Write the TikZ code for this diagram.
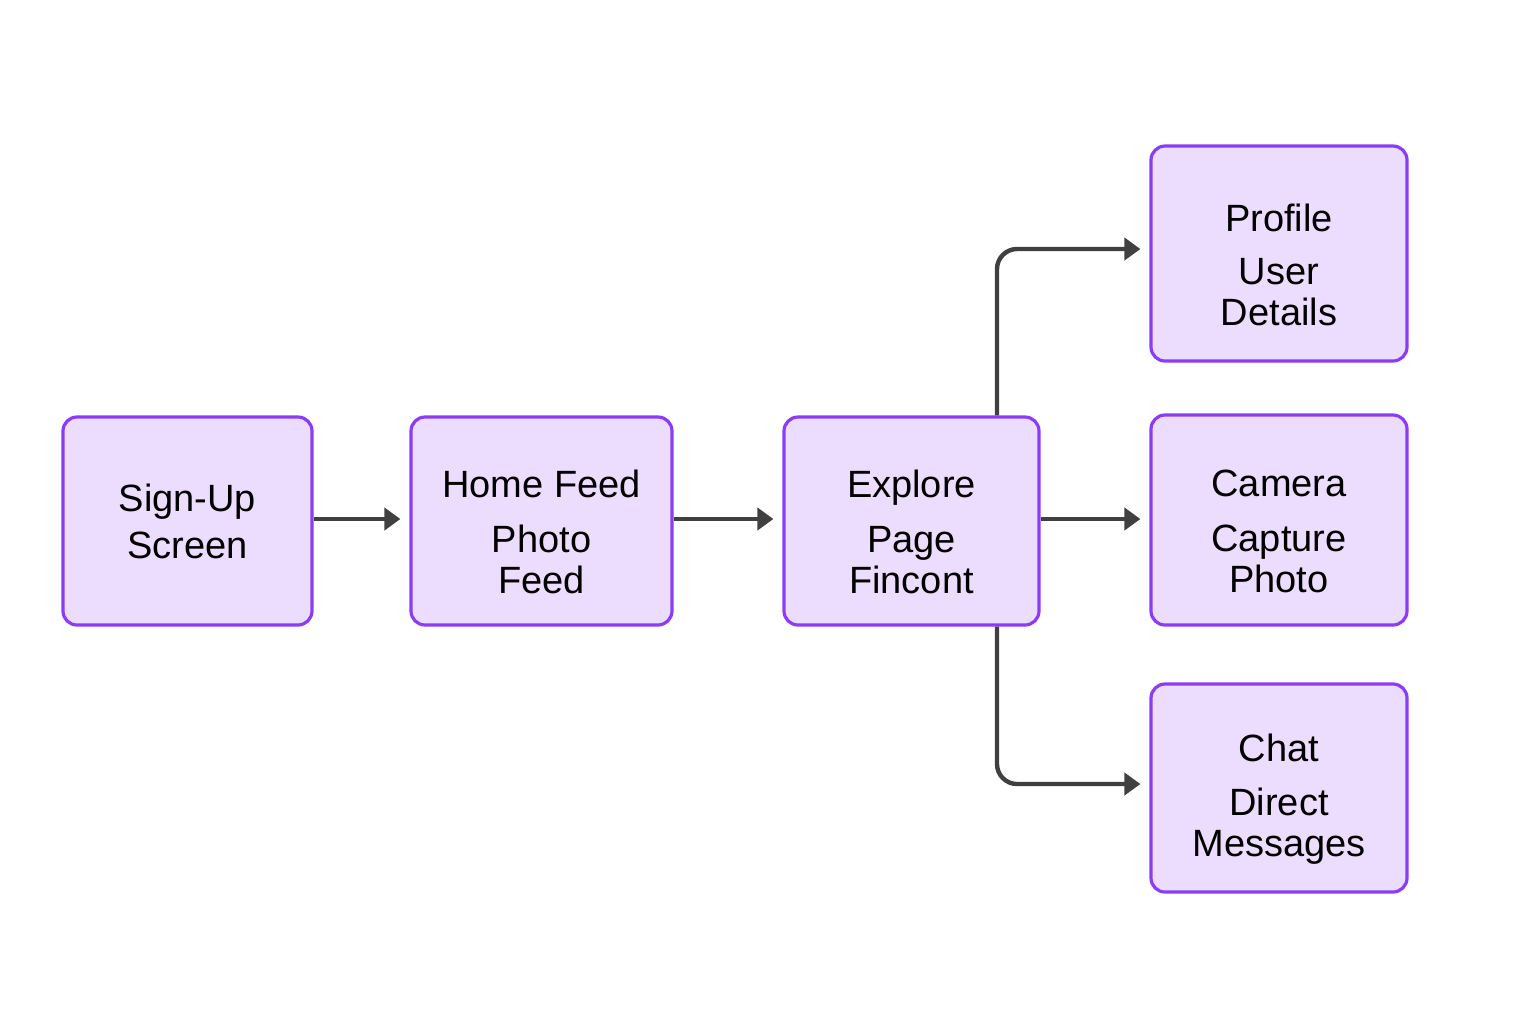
\documentclass[tikz,border=0pt]{standalone}
\usepackage{fontspec}
\setmainfont{Liberation Sans}
\usetikzlibrary{arrows.meta}
\definecolor{boxfill}{HTML}{ECDCFD}
\definecolor{boxline}{HTML}{8B3DF5}
\definecolor{arrcol}{HTML}{404040}
\newcommand{\dropstrut}{\rule{0pt}{25pt}}
\tikzset{
  screen/.style={draw=boxline, fill=boxfill, line width=1.6pt, rounded corners=7pt,
    align=center, inner sep=0pt, font=\fontsize{19}{20.5}\selectfont},
  arr/.style={draw=arrcol, line width=2.2pt, -{Triangle[length=8pt,width=11pt]}, shorten >=4.5pt},
}
\begin{document}
\begin{tikzpicture}[x=0.5pt, y=-0.5pt]
\useasboundingbox (0,0) rectangle (1536,1024);
\node[screen, minimum width=124.5pt, minimum height=104pt] (signup) at (187.5,521) {Sign-Up\\[3pt]Screen};
\node[screen, minimum width=130.5pt, minimum height=104pt] (home) at (541.5,521) {\dropstrut Home Feed\\[7pt]Photo\\Feed};
\node[screen, minimum width=127.5pt, minimum height=104pt] (explore) at (911.5,521) {\dropstrut Explore\\[7pt]Page\\Fincont};
\node[screen, minimum width=128pt, minimum height=107.5pt] (profile) at (1279,253.5) {\dropstrut Profile\\[6pt]User\\Details};
\node[screen, minimum width=128pt, minimum height=105pt] (camera) at (1279,520) {\dropstrut Camera\\[7pt]Capture\\Photo};
\node[screen, minimum width=128pt, minimum height=104pt] (chat) at (1279,788) {\dropstrut Chat\\[6.5pt]Direct\\Messages};
\draw[arr] ([yshift=1pt]signup.east) -- ([yshift=1pt]home.west);
\draw[arr] ([yshift=1pt]home.east) -- ([yshift=1pt]explore.west);
\draw[arr] ([yshift=1pt]explore.east) -- ([yshift=1pt]explore.east -| camera.west);
\draw[arr, rounded corners=10pt] ([xshift=42.75pt]explore.north) |- ([yshift=2.25pt]profile.west);
\draw[arr, rounded corners=10pt] ([xshift=42.75pt]explore.south) |- ([yshift=2pt]chat.west);
\end{tikzpicture}
\end{document}
